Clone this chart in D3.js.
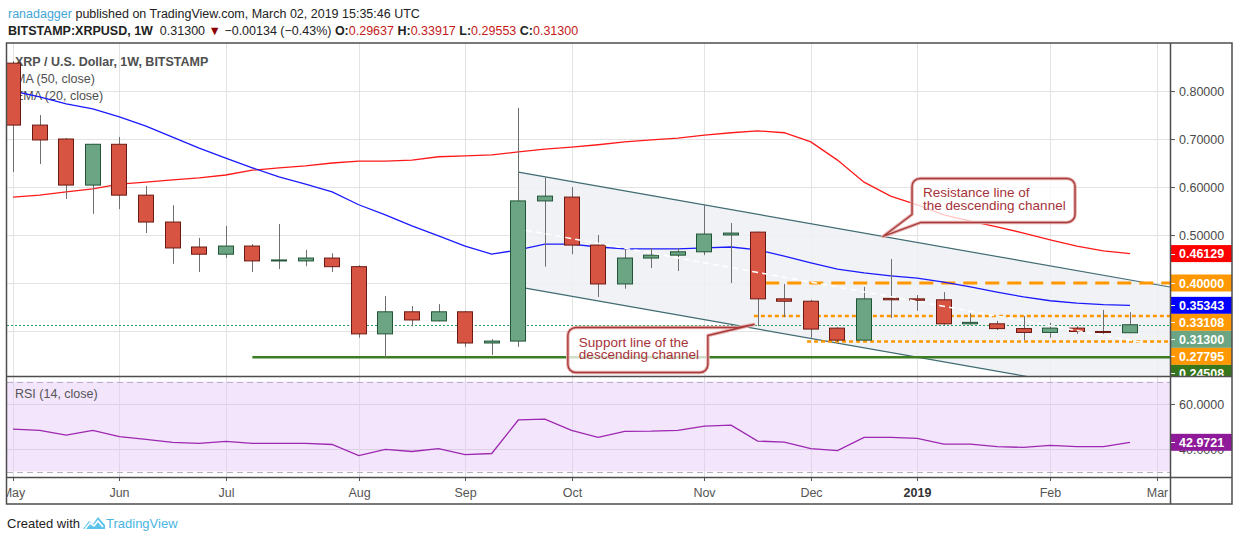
<!DOCTYPE html>
<html lang="en">
<head>
<meta charset="UTF-8">
<title>XRP / U.S. Dollar, 1W, BITSTAMP</title>
<script src="https://cdnjs.cloudflare.com/ajax/libs/d3/7.8.5/d3.min.js"></script>
<style>
  body { margin: 0; background: #fff; }
  svg text { font-family: "Liberation Sans", Arial, sans-serif; }
</style>
</head>
<body>
<svg id="chart" width="1234" height="541"></svg>
<script>
// weekly bars, BITSTAMP:XRPUSD
const dates = ["2018-05-07","2018-05-14","2018-05-21","2018-05-28","2018-06-04","2018-06-11","2018-06-18","2018-06-25",
  "2018-07-02","2018-07-09","2018-07-16","2018-07-23","2018-07-30","2018-08-06","2018-08-13","2018-08-20","2018-08-27",
  "2018-09-03","2018-09-10","2018-09-17","2018-09-24","2018-10-01","2018-10-08","2018-10-15","2018-10-22","2018-10-29",
  "2018-11-05","2018-11-12","2018-11-19","2018-11-26","2018-12-03","2018-12-10","2018-12-17","2018-12-24","2018-12-31",
  "2019-01-07","2019-01-14","2019-01-21","2019-01-28","2019-02-04","2019-02-11","2019-02-18","2019-02-25"];
const open  = [0.858,0.729,0.700,0.604,0.689,0.583,0.527,0.475,0.460,0.477,0.446,0.446,0.452,0.434,0.294,0.340,0.321,
  0.340,0.275,0.279,0.571,0.579,0.479,0.398,0.452,0.458,0.465,0.500,0.506,0.367,0.362,0.306,0.281,0.368,0.367,
  0.365,0.315,0.315,0.305,0.297,0.306,0.299,0.29637];
const high  = [0.862,0.750,0.702,0.690,0.704,0.602,0.562,0.494,0.519,0.481,0.523,0.469,0.462,0.437,0.373,0.352,0.356,
  0.342,0.283,0.765,0.620,0.600,0.500,0.473,0.473,0.473,0.562,0.525,0.507,0.398,0.365,0.308,0.392,0.450,0.375,
  0.381,0.337,0.321,0.331,0.317,0.310,0.344,0.33917];
const low   = [0.631,0.648,0.575,0.544,0.554,0.504,0.440,0.423,0.452,0.423,0.429,0.435,0.423,0.286,0.244,0.310,0.320,
  0.267,0.250,0.267,0.434,0.460,0.371,0.388,0.431,0.425,0.458,0.400,0.310,0.329,0.286,0.277,0.281,0.327,0.342,
  0.313,0.313,0.302,0.281,0.286,0.294,0.294,0.29553];
const close = [0.729,0.698,0.604,0.689,0.583,0.527,0.473,0.460,0.477,0.446,0.448,0.452,0.434,0.294,0.340,0.323,0.340,
  0.275,0.279,0.571,0.581,0.479,0.398,0.452,0.458,0.465,0.502,0.504,0.367,0.362,0.304,0.281,0.367,0.365,0.364,
  0.315,0.318,0.305,0.297,0.306,0.299,0.297,0.31300];

const ma50 = [0.579,0.583,0.590,0.596,0.606,0.610,0.615,0.619,0.625,0.635,0.640,0.644,0.650,0.654,0.654,0.656,0.663,
  0.665,0.667,0.673,0.679,0.683,0.688,0.694,0.698,0.702,0.708,0.713,0.717,0.713,0.694,0.656,0.610,0.581,0.563,
  0.542,0.529,0.517,0.504,0.490,0.477,0.467,0.46129];
const ema20 = [0.800,0.788,0.773,0.763,0.746,0.727,0.704,0.681,0.660,0.640,0.621,0.606,0.590,0.563,0.542,0.519,0.498,
  0.477,0.460,0.469,0.481,0.481,0.475,0.471,0.471,0.471,0.473,0.475,0.469,0.456,0.442,0.429,0.421,0.415,0.410,
  0.402,0.392,0.381,0.371,0.363,0.358,0.355,0.35343];
const rsi14 = [48.8,48.3,46.2,48.3,45.5,44.3,42.9,42.5,43.4,42.5,42.5,42.5,42.0,37.1,39.8,38.9,40.2,37.5,38.0,52.9,
  53.3,48.3,45.2,47.8,47.9,48.3,50.2,50.6,43.5,43.1,40.2,39.3,45.2,45.2,44.7,42.2,42.2,41.1,40.7,41.6,41.1,41.1,42.9721];

const priceTicks = [0.3, 0.4, 0.5, 0.6, 0.7, 0.8];
const priceTickLabels = ["0.50000", "0.60000", "0.70000", "0.80000"]; // 0.3 and 0.4 sit under the value labels
const rsiGrid = [40, 60];
const rsiBand = [30, 70];
const timeTicks = [["2018-05-07","May"],["2018-06-04","Jun"],["2018-07-02","Jul"],["2018-08-06","Aug"],
  ["2018-09-03","Sep"],["2018-10-01","Oct"],["2018-11-05","Nov"],["2018-12-03","Dec"],["2018-12-31","2019"],
  ["2019-02-04","Feb"],["2019-03-04","Mar"]];

// drawings
const channelDates = ["2018-09-17", "2019-03-08"];
const channelUpper = [0.631, 0.391];
const channelLower = [0.392, 0.152];
const levelLines = [
  {price: 0.40000, from: "2018-11-21", color: "#ff9800", dash: "14,8", width: 3},
  {price: 0.33108, from: "2018-11-18", color: "#ff9800", dash: "4,3", width: 2.5},
  {price: 0.27795, from: "2018-12-02", color: "#ff9800", dash: "4,3", width: 2.5},
  {price: 0.24508, from: "2018-07-09", color: "#3c7d23", dash: null, width: 2.5}
];
const whiteDash = {dates: ["2018-09-19", "2019-03-01"], prices: [0.510, 0.275]};
const priceLabels = [
  {v: 0.46129, bg: "#ff0000"},
  {v: 0.40000, bg: "#ff9800"},
  {v: 0.35343, bg: "#0000ff"},
  {v: 0.33108, bg: "#ff9800"},
  {v: 0.31300, bg: "#6ba583"},
  {v: 0.27795, bg: "#ff9800"},
  {v: 0.24508, bg: "#38761d"}
];

const parse = d3.utcParse("%Y-%m-%d");
const svg = d3.select("#chart");

const L = 7, R = 1170, mainTop = 43, mainBot = 376, rsiTop = 377, rsiBot = 477, axisBot = 504, outerR = 1232;

const x = d3.scaleUtc().domain([parse(dates[0]), parse(dates[dates.length - 1])]).range([13, 1130]);
const y = d3.scaleLinear().domain([0.3, 0.8]).range([331, 91]);
const yr = d3.scaleLinear().domain([30, 70]).range([471.5, 381.5]);

const bars = dates.map((d, i) => ({date: parse(d), o: open[i], h: high[i], l: low[i], c: close[i],
  ma: ma50[i], ema: ema20[i], rsi: rsi14[i]}));

const defs = svg.append("defs");
defs.append("clipPath").attr("id", "mainClip").append("rect")
  .attr("x", L).attr("y", mainTop).attr("width", R - L).attr("height", mainBot - mainTop);
defs.append("clipPath").attr("id", "rsiClip").append("rect")
  .attr("x", L).attr("y", rsiTop).attr("width", R - L).attr("height", rsiBot - rsiTop);
defs.append("clipPath").attr("id", "axisClip").append("rect")
  .attr("x", L).attr("y", mainTop).attr("width", outerR - L).attr("height", mainBot - mainTop);
defs.append("clipPath").attr("id", "timeClip").append("rect")
  .attr("x", L).attr("y", rsiBot).attr("width", R - L).attr("height", axisBot - rsiBot);

// header
const h1 = svg.append("text").attr("x", 8).attr("y", 18).attr("font-size", 12.5).attr("fill", "#222");
h1.append("tspan").attr("fill", "#45a5d9").text("ranadagger");
h1.append("tspan").text(" published on TradingView.com, March 02, 2019 15:35:46 UTC");

const h2 = svg.append("text").attr("x", 8).attr("y", 35).attr("font-size", 12.5).attr("fill", "#222");
h2.append("tspan").attr("font-weight", "bold").text("BITSTAMP:XRPUSD, 1W");
h2.append("tspan").text("\u00a0 0.31300 ");
h2.append("tspan").attr("fill", "#8b0000").text("\u25bc");
h2.append("tspan").text(" \u22120.00134 (\u22120.43%) ");
[["O:", "0.29637"], ["H:", "0.33917"], ["L:", "0.29553"], ["C:", "0.31300"]].forEach(([k, v]) => {
  h2.append("tspan").attr("font-weight", "bold").text(" " + k);
  h2.append("tspan").attr("fill", "#c41a1a").text(v);
});

// main pane
const main = svg.append("g").attr("clip-path", "url(#mainClip)");
main.selectAll(".hgrid").data(priceTicks).join("line")
  .attr("x1", L).attr("x2", R).attr("y1", d => Math.round(y(d)) + 0.5).attr("y2", d => Math.round(y(d)) + 0.5)
  .attr("stroke", "#e3e3e3");
main.selectAll(".vgrid").data(timeTicks).join("line")
  .attr("x1", d => Math.round(x(parse(d[0]))) + 0.5).attr("x2", d => Math.round(x(parse(d[0]))) + 0.5)
  .attr("y1", mainTop).attr("y2", mainBot).attr("stroke", "#e3e3e3");

// parallel channel
const cx0 = x(parse(channelDates[0])), cx1 = x(parse(channelDates[1]));
main.append("path")
  .attr("d", `M${cx0},${y(channelUpper[0])}L${cx1},${y(channelUpper[1])}L${cx1},${y(channelLower[1])}L${cx0},${y(channelLower[0])}Z`)
  .attr("fill", "#eef0f3").attr("fill-opacity", 0.85);
[channelUpper, channelLower].forEach(p => {
  main.append("line").attr("x1", cx0).attr("y1", y(p[0])).attr("x2", cx1).attr("y2", y(p[1]))
    .attr("stroke", "#3f6b72").attr("stroke-width", 1.2);
});

// legend
const lg = main.append("g").attr("fill", "#4f4f4f").attr("font-size", 12.5);
lg.append("text").attr("x", 15).attr("y", 66).attr("font-weight", "bold").text("XRP / U.S. Dollar, 1W, BITSTAMP");
lg.append("text").attr("x", 15).attr("y", 83).text("MA (50, close)");
lg.append("text").attr("x", 15).attr("y", 100).text("EMA (20, close)");

// level lines
levelLines.forEach(l => {
  main.append("line").attr("x1", x(parse(l.from))).attr("x2", R)
    .attr("y1", y(l.price)).attr("y2", y(l.price))
    .attr("stroke", l.color).attr("stroke-width", l.width)
    .attr("stroke-dasharray", l.dash);
});
// last price line
main.append("line").attr("x1", L).attr("x2", R)
  .attr("y1", Math.round(y(close[close.length - 1])) + 0.5).attr("y2", Math.round(y(close[close.length - 1])) + 0.5)
  .attr("stroke", "#2f9e62").attr("stroke-dasharray", "2,2");

// moving averages
main.append("path").datum(bars)
  .attr("d", d3.line().x(d => x(d.date)).y(d => y(d.ma)))
  .attr("fill", "none").attr("stroke", "#ff1a1a").attr("stroke-width", 1.3);
main.append("path").datum(bars)
  .attr("d", d3.line().x(d => x(d.date)).y(d => y(d.ema)))
  .attr("fill", "none").attr("stroke", "#1a1aff").attr("stroke-width", 1.3);

// candles
const cw = 16;
const candle = main.selectAll(".candle").data(bars).join("g");
candle.append("line")
  .attr("x1", d => Math.round(x(d.date)) + 0.5).attr("x2", d => Math.round(x(d.date)) + 0.5)
  .attr("y1", d => y(d.h)).attr("y2", d => y(d.l))
  .attr("stroke", "#6f6f6f");
candle.append("rect")
  .attr("x", d => Math.round(x(d.date)) - cw / 2 + 0.5)
  .attr("width", cw - 1)
  .attr("y", d => y(Math.max(d.o, d.c)))
  .attr("height", d => Math.max(1, Math.abs(y(d.o) - y(d.c))))
  .attr("fill", d => d.c >= d.o ? "#6ba583" : "#d75442")
  .attr("stroke", d => d.c >= d.o ? "#225437" : "#6b1a13")
  .attr("stroke-width", 1);

// faint white dashed trend line
main.append("line")
  .attr("x1", x(parse(whiteDash.dates[0]))).attr("y1", y(whiteDash.prices[0]))
  .attr("x2", x(parse(whiteDash.dates[1]))).attr("y2", y(whiteDash.prices[1]))
  .attr("stroke", "#fff").attr("stroke-width", 1.5).attr("stroke-dasharray", "6,4");

// callouts
function callout(tip, box, wedge, lines) {
  const r = 8;
  const [x0, y0, x1, y1] = box;
  let d;
  if (wedge.side === "bottomLeft") {
    d = `M${x0 + r},${y0}H${x1 - r}A${r},${r} 0 0 1 ${x1},${y0 + r}V${y1 - r}A${r},${r} 0 0 1 ${x1 - r},${y1}` +
        `H${wedge.a}L${tip[0]},${tip[1]}L${x0},${wedge.b}V${y0 + r}A${r},${r} 0 0 1 ${x0 + r},${y0}Z`;
  } else {
    d = `M${x0 + r},${y0}H${wedge.a}L${tip[0]},${tip[1]}L${x1},${wedge.b}V${y1 - r}A${r},${r} 0 0 1 ${x1 - r},${y1}` +
        `H${x0 + r}A${r},${r} 0 0 1 ${x0},${y1 - r}V${y0 + r}A${r},${r} 0 0 1 ${x0 + r},${y0}Z`;
  }
  const g = main.append("g");
  g.append("path").attr("d", d).attr("fill", "#fff").attr("fill-opacity", 0.75)
    .attr("stroke", "#e8b4b4").attr("stroke-width", 3.5).attr("stroke-linejoin", "round");
  g.append("path").attr("d", d).attr("fill", "none")
    .attr("stroke", "#a83a3a").attr("stroke-width", 1.4).attr("stroke-linejoin", "round");
  lines.forEach((t, i) => {
    g.append("text").attr("x", x0 + 11).attr("y", y0 + 19 + i * 12.5)
      .attr("font-size", 13.5).attr("fill", "#a8323a").text(t);
  });
}
const resTip = [x(parse("2018-12-22")), y(0.497)];
callout(resTip, [resTip[0] + 29, resTip[1] - 58, resTip[0] + 192, resTip[1] - 14],
  {side: "bottomLeft", a: resTip[0] + 38, b: resTip[1] - 22}, ["Resistance line of", "the descending channel"]);
const supTip = [x(parse("2018-11-18")), y(0.3135)];
callout(supTip, [supTip[0] - 186, supTip[1] + 3, supTip[0] - 46, supTip[1] + 48],
  {side: "topRight", a: supTip[0] - 16, b: supTip[1] + 11}, ["Support line of the", "descending channel"]);

// price axis
const ax = svg.append("g").attr("clip-path", "url(#axisClip)");
priceTicks.forEach(v => {
  const yy = Math.round(y(v)) + 0.5;
  ax.append("line").attr("x1", R).attr("x2", R + 5).attr("y1", yy).attr("y2", yy).attr("stroke", "#555");
  const label = d3.format(".5f")(v);
  if (priceTickLabels.includes(label)) {
    ax.append("text").attr("x", R + 9).attr("y", yy + 4.5).attr("font-size", 12.5).attr("fill", "#4a4a4a").text(label);
  }
});
let prevY = -Infinity;
priceLabels.forEach(p => {
  let cy = y(p.v);
  if (cy - prevY < 17) cy = prevY + 17;
  prevY = cy;
  ax.append("rect").attr("x", R).attr("y", cy - 8.5).attr("width", outerR - R).attr("height", 17).attr("fill", p.bg);
  ax.append("line").attr("x1", R).attr("x2", R + 5).attr("y1", Math.round(cy) + 0.5).attr("y2", Math.round(cy) + 0.5)
    .attr("stroke", "#fff");
  ax.append("text").attr("x", R + 9).attr("y", cy + 4.5).attr("font-size", 12.5).attr("font-weight", "bold")
    .attr("fill", "#fff").text(d3.format(".5f")(p.v));
});

// RSI pane
const rp = svg.append("g").attr("clip-path", "url(#rsiClip)");
rp.append("rect").attr("x", L).attr("width", R - L).attr("y", yr(rsiBand[1])).attr("height", yr(rsiBand[0]) - yr(rsiBand[1]))
  .attr("fill", "#f3e5fc");
rp.selectAll(".rg").data(rsiGrid).join("line")
  .attr("x1", L).attr("x2", R).attr("y1", d => Math.round(yr(d)) + 0.5).attr("y2", d => Math.round(yr(d)) + 0.5)
  .attr("stroke", "#ddd0e6");
rp.selectAll(".rv").data(timeTicks).join("line")
  .attr("x1", d => Math.round(x(parse(d[0]))) + 0.5).attr("x2", d => Math.round(x(parse(d[0]))) + 0.5)
  .attr("y1", rsiTop).attr("y2", rsiBot).attr("stroke", "#e0d8e6");
rp.selectAll(".rb").data(rsiBand).join("line")
  .attr("x1", L).attr("x2", R).attr("y1", d => Math.round(yr(d)) + 0.5).attr("y2", d => Math.round(yr(d)) + 0.5)
  .attr("stroke", "#b9b0c2").attr("stroke-dasharray", "6,4");
rp.append("text").attr("x", 15).attr("y", 398).attr("font-size", 12.5).attr("fill", "#555").text("RSI (14, close)");
rp.append("path").datum(bars)
  .attr("d", d3.line().x(d => x(d.date)).y(d => yr(d.rsi)))
  .attr("fill", "none").attr("stroke", "#9c27b0").attr("stroke-width", 1.3);

const rax = svg.append("g");
rsiGrid.forEach(v => {
  const yy = Math.round(yr(v)) + 0.5;
  rax.append("line").attr("x1", R).attr("x2", R + 5).attr("y1", yy).attr("y2", yy).attr("stroke", "#555");
  rax.append("text").attr("x", R + 9).attr("y", yy + 4.5).attr("font-size", 12.5).attr("fill", "#4a4a4a")
    .text(d3.format(".4f")(v));
});
const lastRsi = rsi14[rsi14.length - 1];
rax.append("rect").attr("x", R).attr("y", yr(lastRsi) - 8.5).attr("width", outerR - R).attr("height", 17).attr("fill", "#8e1a99");
rax.append("line").attr("x1", R).attr("x2", R + 5).attr("y1", Math.round(yr(lastRsi)) + 0.5).attr("y2", Math.round(yr(lastRsi)) + 0.5)
  .attr("stroke", "#fff");
rax.append("text").attr("x", R + 9).attr("y", yr(lastRsi) + 4.5).attr("font-size", 12.5).attr("font-weight", "bold")
  .attr("fill", "#fff").text(d3.format(".4f")(lastRsi));

// time axis
const tx = svg.append("g").attr("clip-path", "url(#timeClip)");
timeTicks.forEach(([d, label]) => {
  const xx = Math.round(x(parse(d))) + 0.5;
  tx.append("line").attr("x1", xx).attr("x2", xx).attr("y1", rsiBot).attr("y2", rsiBot + 4).attr("stroke", "#555");
  tx.append("text").attr("x", xx).attr("y", 497).attr("text-anchor", "middle").attr("font-size", 12.5)
    .attr("fill", label === "2019" ? "#333" : "#555").attr("font-weight", label === "2019" ? "bold" : null).text(label);
});

// frames
const fr = svg.append("g").attr("fill", "none").attr("stroke", "#4d4d4d").attr("stroke-width", 1.5);
fr.append("rect").attr("x", 6.5).attr("y", mainTop).attr("width", outerR - 6.5).attr("height", axisBot - mainTop);
fr.append("line").attr("x1", 6.5).attr("x2", outerR).attr("y1", mainBot + 0.5).attr("y2", mainBot + 0.5);
fr.append("line").attr("x1", 6.5).attr("x2", outerR).attr("y1", rsiBot + 0.5).attr("y2", rsiBot + 0.5);
fr.append("line").attr("x1", R + 0.5).attr("x2", R + 0.5).attr("y1", mainTop).attr("y2", axisBot);

// footer
svg.append("text").attr("x", 7).attr("y", 528).attr("font-size", 13).attr("fill", "#222").text("Created with");
const logo = svg.append("g").attr("transform", "translate(83,517)");
logo.append("path").attr("d", "M0,12 L6,4 L10,7 L15,0 L22,8 L22,12 Z").attr("fill", "#5ec3ea");
logo.append("path").attr("d", "M2,12 L7,6 L11,9 L15,4 L20,10").attr("fill", "none").attr("stroke", "#fff").attr("stroke-width", 1.6);
svg.append("text").attr("x", 106).attr("y", 528).attr("font-size", 13).attr("fill", "#4ab4e2").text("TradingView");
</script>
</body>
</html>
